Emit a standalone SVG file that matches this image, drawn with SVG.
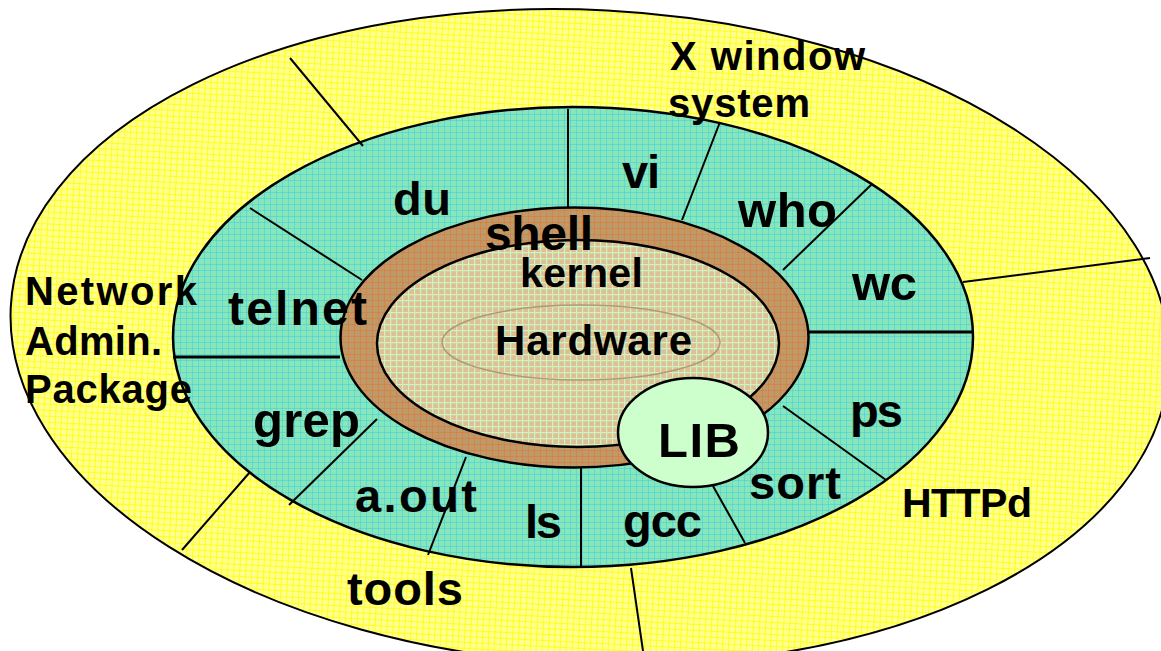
<svg xmlns="http://www.w3.org/2000/svg" width="1161" height="651" viewBox="0 0 1161 651">
<defs>
<pattern id="pY" width="6" height="6" patternUnits="userSpaceOnUse"><rect width="6" height="6" fill="#FFFF92"/><path d="M0 0.5H6M0.5 0V6" stroke="#FFFF00" stroke-width="1" stroke-opacity="0.8"/></pattern>
<pattern id="pT" width="6" height="6" patternUnits="userSpaceOnUse"><rect width="6" height="6" fill="#88E6B8"/><path d="M0 0.5H6M0.5 0V6" stroke="#3CCFE6" stroke-width="1" stroke-opacity="0.55"/></pattern>
<pattern id="pB" width="6" height="6" patternUnits="userSpaceOnUse"><rect width="6" height="6" fill="#BE9A6A"/><path d="M0 0.5H6M0.5 0V6" stroke="#F06818" stroke-width="1" stroke-opacity="0.4"/></pattern>
<pattern id="pK" width="6" height="6" patternUnits="userSpaceOnUse"><rect width="6" height="6" fill="#DEC094"/><path d="M0 0.5H6M0.5 0V6" stroke="#CAF4C2" stroke-width="1.4"/></pattern>
<style>
.ring{stroke:#000;stroke-width:2.5}
.ln{stroke:#000;stroke-width:2;fill:none}
.thk{stroke-width:3}
text{font-family:"Liberation Sans",Arial,sans-serif;font-weight:bold;fill:#000}
</style>
</defs>
<g id="outer-ring">
<ellipse cx="590" cy="337" rx="580" ry="327" transform="rotate(3 590 337)" fill="url(#pY)" stroke="#000" stroke-width="2"/>
</g>
<g id="tools-ring">
<ellipse class="ring" cx="573" cy="337" rx="400" ry="230" fill="url(#pT)"/>
</g>
<g id="shell">
<ellipse class="ring" cx="574.5" cy="337.5" rx="234" ry="130" fill="url(#pB)"/>
</g>
<g id="kernel">
<ellipse class="ring" cx="578" cy="343.5" rx="201" ry="103.5" fill="url(#pK)"/>
</g>
<g id="hardware">
<ellipse cx="581" cy="342.5" rx="139" ry="37.5" fill="none" stroke="#B09A78" stroke-width="1.5"/>
</g>
<g id="connectors">
<line class="ln" x1="290" y1="58" x2="363" y2="146"/>
<line class="ln" x1="963" y1="282" x2="1150" y2="258"/>
<line class="ln" x1="250" y1="472" x2="182" y2="550"/>
<line class="ln" x1="631" y1="568" x2="643" y2="651"/>
<line class="ln" x1="568" y1="109" x2="568" y2="208"/>
<line class="ln" x1="720" y1="122" x2="682" y2="220"/>
<line class="ln" x1="872" y1="184" x2="783" y2="270"/>
<line class="ln thk" x1="808" y1="332" x2="973" y2="332"/>
<line class="ln" x1="783" y1="406" x2="886" y2="480"/>
<line class="ln" x1="713" y1="486" x2="745" y2="543"/>
<line class="ln" x1="581" y1="467" x2="581" y2="567"/>
<line class="ln" x1="466" y1="457" x2="428" y2="555"/>
<line class="ln" x1="377" y1="419" x2="289" y2="505"/>
<line class="ln thk" x1="173" y1="357" x2="340" y2="357"/>
<line class="ln" x1="250" y1="208" x2="362" y2="280"/>
</g>
<g id="lib">
<ellipse class="ring" cx="693" cy="432.5" rx="75" ry="54.5" fill="#CCFFCC"/>
<text x="658" y="457" font-size="49" textLength="82">LIB</text>
</g>
<g id="label-xwindow">
<text x="670" y="70" font-size="40" textLength="195">X window</text>
<text x="668" y="117" font-size="40" textLength="142">system</text>
</g>
<g id="label-network">
<text x="25" y="305" font-size="40" textLength="172">Network</text>
<text x="25" y="355" font-size="40" textLength="137">Admin.</text>
<text x="25" y="403" font-size="40" textLength="167">Package</text>
</g>
<g id="label-httpd"><text x="902" y="517" font-size="41" textLength="130">HTTPd</text></g>
<g id="label-tools"><text x="347" y="605" font-size="47" textLength="116">tools</text></g>
<g id="label-du"><text x="393" y="215" font-size="47" textLength="58">du</text></g>
<g id="label-vi"><text x="622" y="188" font-size="47" textLength="38">vi</text></g>
<g id="label-who"><text x="738" y="227" font-size="49" textLength="99">who</text></g>
<g id="label-wc"><text x="852" y="300" font-size="49" textLength="65">wc</text></g>
<g id="label-ps"><text x="850" y="427" font-size="47" textLength="53">ps</text></g>
<g id="label-sort"><text x="749" y="499" font-size="47" textLength="92">sort</text></g>
<g id="label-gcc"><text x="623" y="537" font-size="47" textLength="79">gcc</text></g>
<g id="label-ls"><text x="525" y="538" font-size="47" textLength="37">ls</text></g>
<g id="label-aout"><text x="355" y="512" font-size="47" textLength="122">a.out</text></g>
<g id="label-grep"><text x="253" y="437" font-size="49" textLength="107">grep</text></g>
<g id="label-telnet"><text x="228" y="325" font-size="48" textLength="139">telnet</text></g>
<g id="label-shell"><text x="485" y="250" font-size="48" textLength="108">shell</text></g>
<g id="label-kernel"><text x="520" y="287" font-size="41" textLength="123">kernel</text></g>
<g id="label-hardware"><text x="495" y="355" font-size="42" textLength="197">Hardware</text></g>
</svg>
